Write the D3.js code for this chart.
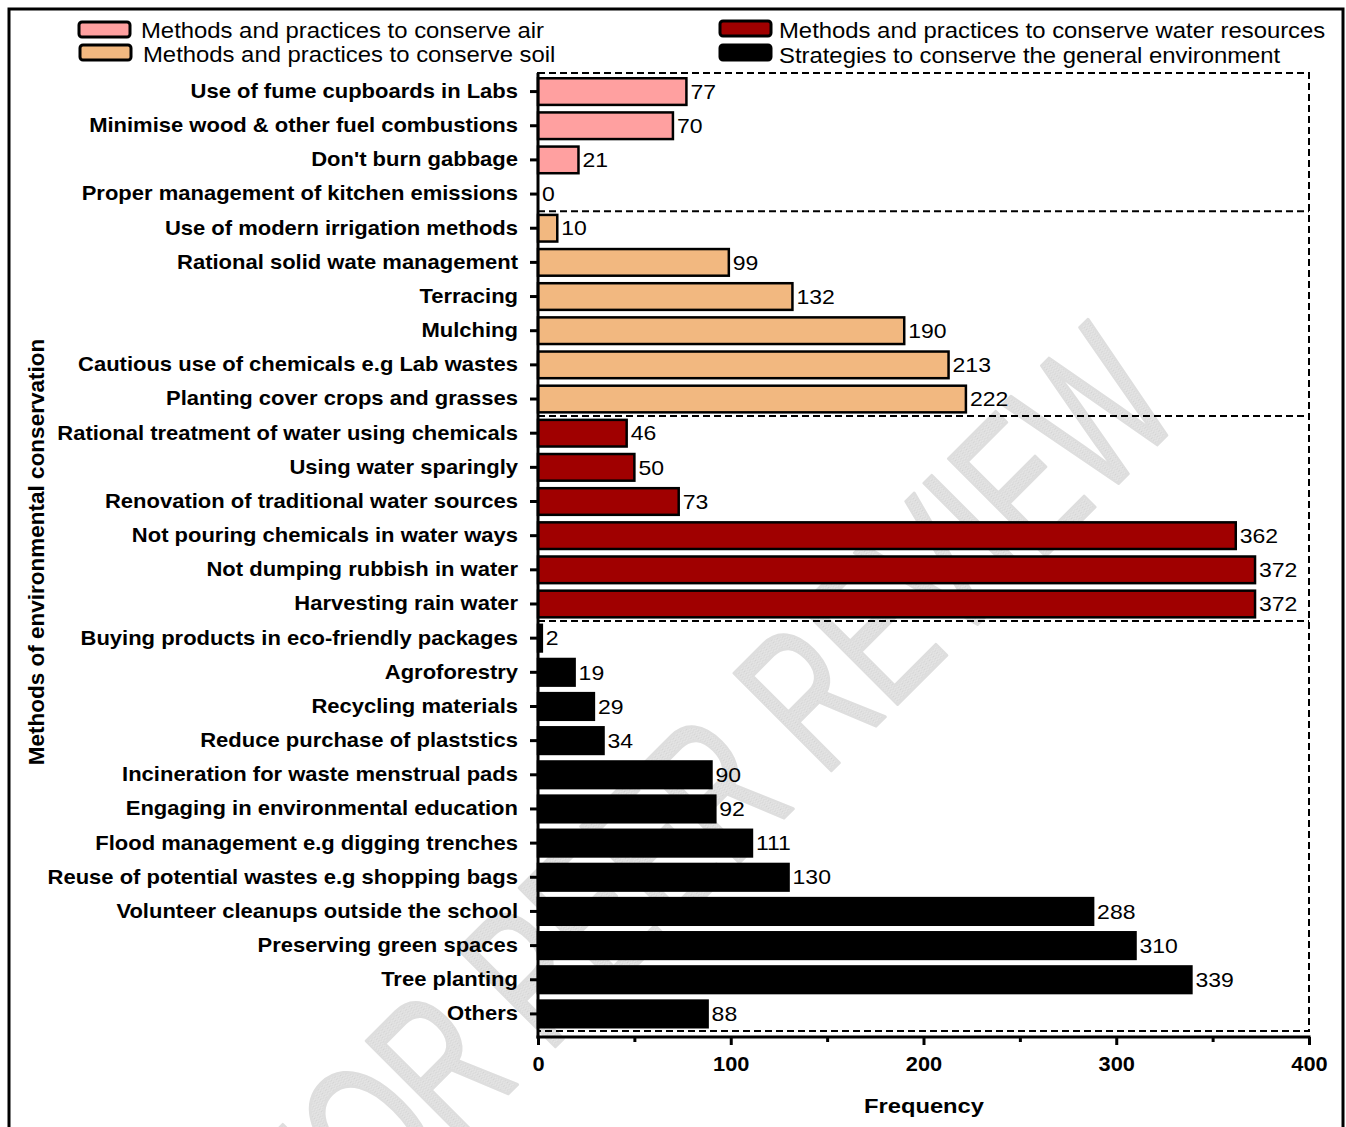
<!DOCTYPE html>
<html>
<head>
<meta charset="utf-8">
<script src="https://cdn.jsdelivr.net/npm/d3@7"></script>
<style>
  html, body { margin: 0; padding: 0; background: #fff; }
  svg { display: block; font-family: "Liberation Sans", Arial, sans-serif; }
</style>
</head>
<body>
<svg id="chart" width="1346" height="1127"></svg>
<script>
// ---- data ----
const groups = [
  "Methods and practices to conserve air",
  "Methods and practices to conserve soil",
  "Methods and practices to conserve water resources",
  "Strategies to conserve the general environment"
];
const groupColors = ["#FFA0A0", "#F2B880", "#A00000", "#000000"];

const airCategories = ["Use of fume cupboards in Labs", "Minimise wood & other fuel combustions", "Don't burn gabbage", "Proper management of kitchen emissions"];
const airValues = [77, 70, 21, 0];

const soilCategories = ["Use of modern irrigation methods", "Rational solid wate management", "Terracing", "Mulching", "Cautious use of chemicals e.g Lab wastes", "Planting cover crops and grasses"];
const soilValues = [10, 99, 132, 190, 213, 222];

const waterCategories = ["Rational treatment of water using chemicals", "Using water sparingly", "Renovation of traditional water sources", "Not pouring chemicals in water ways", "Not dumping rubbish in water", "Harvesting rain water"];
const waterValues = [46, 50, 73, 362, 372, 372];

const generalCategories = ["Buying products in eco-friendly packages", "Agroforestry", "Recycling materials", "Reduce purchase of plaststics", "Incineration for waste menstrual pads", "Engaging in environmental education", "Flood management e.g digging trenches", "Reuse of potential wastes e.g shopping bags", "Volunteer cleanups outside the school", "Preserving green spaces", "Tree planting", "Others"];
const generalValues = [2, 19, 29, 34, 90, 92, 111, 130, 288, 310, 339, 88];

const xTicks = [0, 100, 200, 300, 400];
const xMinorTicks = [50, 150, 250, 350];
const xTitle = "Frequency";
const yTitle = "Methods of environmental conservation";
const watermark = "FOR PEER REVIEW";

// ---- build rows ----
const rows = [];
[[airCategories, airValues], [soilCategories, soilValues], [waterCategories, waterValues], [generalCategories, generalValues]]
  .forEach(([cats, vals], gi) => cats.forEach((c, i) => rows.push({ cat: c, value: vals[i], group: gi })));

const svg = d3.select("#chart");

// outer border
svg.append("rect").attr("x", 9).attr("y", 9).attr("width", 1334).attr("height", 1130)
  .attr("fill", "none").attr("stroke", "#000").attr("stroke-width", 3);

const x = d3.scaleLinear().domain([0, 400]).range([538, 1309]);
const y = d3.scaleBand().domain(rows.map(d => d.cat)).range([74.5, 1031]).paddingInner(0.22).paddingOuter(0.11);

// hatched watermark fill
const defs = svg.append("defs");
const pat = defs.append("pattern").attr("id", "hatch").attr("patternUnits", "userSpaceOnUse")
  .attr("width", 3).attr("height", 3);
pat.append("rect").attr("width", 3).attr("height", 3).attr("fill", "#e6e6e6");
pat.append("rect").attr("width", 1).attr("height", 1).attr("fill", "#c8c8c8");
pat.append("rect").attr("x", 1.5).attr("y", 1.5).attr("width", 1).attr("height", 1).attr("fill", "#c8c8c8");

// watermark (behind everything)
svg.append("text")
  .attr("transform", "translate(1186,416) rotate(-45) scale(0.65,1)")
  .attr("text-anchor", "end")
  .attr("font-size", 200)
  .attr("fill", "url(#hatch)")
  .attr("stroke", "#dedede")
  .attr("stroke-width", 3)
  .attr("stroke-linejoin", "round")
  .text(watermark);

// dashed group boxes
const dash = svg.append("g").attr("fill", "none").attr("stroke", "#000").attr("stroke-width", 2).attr("stroke-dasharray", "7,4");
dash.append("rect").attr("x", x(0)).attr("y", 73).attr("width", x(400) - x(0)).attr("height", 1031 - 73);
let cum = 0;
[airCategories.length, soilCategories.length, waterCategories.length].forEach(n => {
  cum += n;
  const yy = y(rows[cum].cat) - y.step() * y.paddingInner() / 2;
  dash.append("line").attr("x1", x(0)).attr("x2", x(400)).attr("y1", yy).attr("y2", yy);
});

// bars
svg.append("g").selectAll("rect").data(rows).join("rect")
  .attr("x", x(0))
  .attr("y", d => y(d.cat))
  .attr("width", d => x(d.value) - x(0))
  .attr("height", y.bandwidth())
  .attr("fill", d => groupColors[d.group])
  .attr("stroke", "#000")
  .attr("stroke-width", d => d.value > 0 ? 2.5 : 0);

// value labels (slightly wide glyphs as in the reference)
svg.append("g").selectAll("text").data(rows).join("text")
  .attr("transform", d => `translate(${x(d.value) + 4},${y(d.cat) + y.bandwidth() / 2}) scale(1.15,1)`)
  .attr("dy", "0.36em")
  .attr("font-size", 20)
  .attr("fill", "#000")
  .text(d => d.value);

// y axis
const sy = 1.1;
const yAxis = svg.append("g").attr("transform", `translate(${x(0)},0)`)
  .call(d3.axisLeft(y).tickSize(8).tickPadding(12));
yAxis.select(".domain").remove();
yAxis.selectAll(".tick line").attr("stroke-width", 3);
yAxis.selectAll(".tick text")
  .attr("x", -20 / sy)
  .attr("transform", `scale(${sy},1)`)
  .attr("font-size", 20).attr("font-weight", "bold")
  .attr("font-family", "Liberation Sans, Arial, sans-serif").attr("fill", "#000");
svg.append("line").attr("x1", x(0)).attr("x2", x(0)).attr("y1", 73).attr("y2", 1038.5).attr("stroke", "#000").attr("stroke-width", 3);

// x axis
const xAxis = svg.append("g").attr("transform", "translate(0,1037)")
  .call(d3.axisBottom(x).tickValues(xTicks).tickSize(8).tickPadding(12));
xAxis.select(".domain").remove();
xAxis.selectAll(".tick line").attr("stroke-width", 3);
xAxis.selectAll(".tick text")
  .attr("transform", "scale(1.09,1)")
  .attr("font-size", 20).attr("font-weight", "bold")
  .attr("font-family", "Liberation Sans, Arial, sans-serif").attr("fill", "#000");
const xMinor = svg.append("g").attr("transform", "translate(0,1037)")
  .call(d3.axisBottom(x).tickValues(xMinorTicks).tickSize(5).tickFormat(""));
xMinor.select(".domain").remove();
xMinor.selectAll(".tick line").attr("stroke-width", 3);
svg.append("line").attr("x1", x(0) - 1.5).attr("x2", x(400) + 1.5).attr("y1", 1037).attr("y2", 1037).attr("stroke", "#000").attr("stroke-width", 3);

// axis titles
svg.append("text").attr("transform", "translate(924,1113) scale(1.13,1)").attr("text-anchor", "middle")
  .attr("font-size", 21).attr("font-weight", "bold").text(xTitle);
svg.append("text").attr("transform", "translate(44,552) rotate(-90)").attr("text-anchor", "middle")
  .attr("font-size", 22.5).attr("font-weight", "bold").text(yTitle);

// legend
const legendPos = [
  { sx: 79, sy: 22, tx: 141, ty: 30 },
  { sx: 80, sy: 45, tx: 143, ty: 54 },
  { sx: 720, sy: 21, tx: 779, ty: 30 },
  { sx: 720, sy: 45, tx: 779, ty: 55 }
];
const leg = svg.append("g");
groups.forEach((g, i) => {
  const p = legendPos[i];
  leg.append("rect").attr("x", p.sx).attr("y", p.sy).attr("width", 51).attr("height", 15).attr("rx", 3)
    .attr("fill", groupColors[i]).attr("stroke", "#000").attr("stroke-width", 3);
  leg.append("text").attr("transform", `translate(${p.tx},${p.ty}) scale(1.085,1)`)
    .attr("dy", "0.36em").attr("font-size", 22).text(g);
});
</script>
</body>
</html>
